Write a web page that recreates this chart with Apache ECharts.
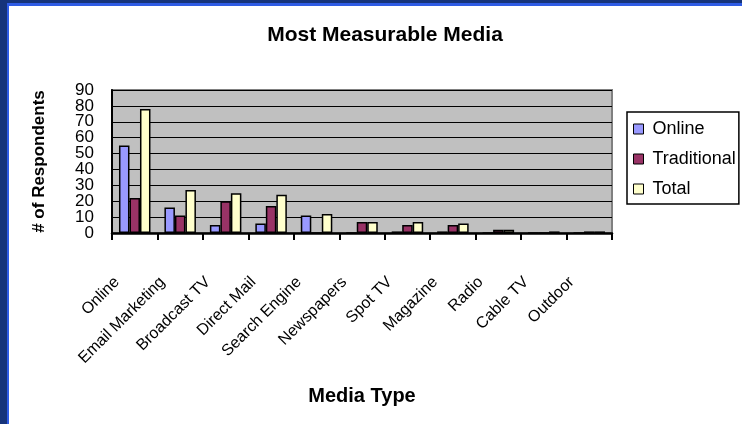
<!DOCTYPE html>
<html>
<head>
<meta charset="utf-8">
<script src="https://cdn.jsdelivr.net/npm/echarts@6/dist/echarts.min.js"></script>
<style>
  html, body { margin: 0; padding: 0; }
  #wrap { position: relative; width: 742px; height: 424px; background: #16347a; overflow: hidden; }
  #edge { position: absolute; left: 7px; top: 3px; right: 0; bottom: 0; background: #2f5ce4; }
  #paper { position: absolute; left: 9px; top: 6px; right: 0; bottom: 0; background: #ffffff; }
  #chart { position: absolute; left: 0; top: 0; width: 742px; height: 424px; }
</style>
</head>
<body>
<div id="wrap">
  <div id="edge"></div>
  <div id="paper"></div>
  <div id="chart"></div>
</div>
<script>
// values
const mediaTypes = ['Online', 'Email Marketing', 'Broadcast TV', 'Direct Mail', 'Search Engine',
  'Newspapers', 'Spot TV', 'Magazine', 'Radio', 'Cable TV', 'Outdoor'];
const onlineVals = [55, 16, 5, 6, 11, 0, 1, 1, 0, 0, 0];
const traditionalVals = [22, 11, 20, 17, 0, 7, 5, 5, 2, 0, 1];
const totalVals = [78, 27, 25, 24, 12, 7, 7, 6, 2, 1, 1];
const yTickLabels = [0, 10, 20, 30, 40, 50, 60, 70, 80, 90];

const font = 'Liberation Sans, Arial, sans-serif';
const yMin = yTickLabels[0];
const yMax = yTickLabels[yTickLabels.length - 1];

// labels are packed tight, so even and odd ticks go on two stacked axes
// (otherwise echarts drops the ones next to 0 and 90)
const evenTicks = yTickLabels.filter((v, i) => i % 2 === 0);
const oddTicks = yTickLabels.filter((v, i) => i % 2 === 1);

const yLabel = (values) => ({
  margin: 18,
  customValues: values,
  showMinLabel: true,
  showMaxLabel: true,
  fontFamily: font,
  fontSize: 17,
  color: '#000'
});

const makeBar = (name, data, color) => ({
  name,
  type: 'bar',
  data,
  yAxisIndex: 0,
  barWidth: 10.5,
  barGap: '0%',
  itemStyle: { color, borderColor: '#000', borderWidth: 1.5 },
  emphasis: { disabled: true }
});

const chart = echarts.init(document.getElementById('chart'), null, { renderer: 'canvas' });

chart.setOption({
  animation: false,
  textStyle: { fontFamily: font },
  title: {
    text: 'Most Measurable Media',
    left: 380,
    top: 20,
    textAlign: 'center',
    textStyle: { fontFamily: font, fontSize: 21, fontWeight: 'bold', color: '#000' }
  },
  legend: {
    orient: 'vertical',
    left: 627,
    top: 112,
    padding: [8, 3, 6, 6],
    itemGap: 12,
    itemWidth: 10,
    itemHeight: 10,
    icon: 'rect',
    backgroundColor: '#fff',
    borderColor: '#000',
    borderWidth: 1.5,
    borderRadius: 0,
    itemStyle: { borderColor: '#000', borderWidth: 1 },
    textStyle: { fontFamily: font, fontSize: 18, color: '#000', padding: [0, 0, 0, 4] },
    data: ['Online', 'Traditional', 'Total']
  },
  grid: {
    left: 112,
    right: 130,
    top: 90,
    bottom: 191,
    show: true,
    backgroundColor: '#c0c0c0',
    borderColor: '#808080',
    borderWidth: 2
  },
  xAxis: {
    type: 'category',
    data: mediaTypes,
    name: 'Media Type',
    nameLocation: 'middle',
    nameGap: 153,
    nameTextStyle: { fontFamily: font, fontSize: 20, fontWeight: 'bold', color: '#000' },
    axisLine: { lineStyle: { color: '#000', width: 2.5 } },
    axisTick: { show: true, length: 7, lineStyle: { color: '#000', width: 2 } },
    axisLabel: {
      interval: 0,
      rotate: 45,
      margin: 29,
      padding: [0, 25, 0, 0],
      fontFamily: font,
      fontSize: 16,
      color: '#000'
    },
    splitLine: { show: false }
  },
  yAxis: [
    {
      type: 'value',
      position: 'left',
      min: yMin,
      max: yMax,
      interval: 10,
      name: '# of Respondents',
      nameLocation: 'middle',
      nameRotate: 90,
      nameGap: 64,
      nameTextStyle: { fontFamily: font, fontSize: 17, fontWeight: 'bold', color: '#000' },
      axisLine: { show: true, lineStyle: { color: '#000', width: 2 } },
      axisTick: { show: false },
      axisLabel: yLabel(evenTicks),
      splitLine: { lineStyle: { color: '#000', width: 1 } }
    },
    {
      type: 'value',
      position: 'left',
      offset: 0,
      min: yMin,
      max: yMax,
      interval: 10,
      axisLine: { show: false },
      axisTick: { show: false },
      axisLabel: yLabel(oddTicks),
      splitLine: { show: false }
    }
  ],
  series: [
    makeBar('Online', onlineVals, '#9999ff'),
    makeBar('Traditional', traditionalVals, '#993366'),
    makeBar('Total', totalVals, '#ffffcc')
  ]
});
</script>
</body>
</html>
